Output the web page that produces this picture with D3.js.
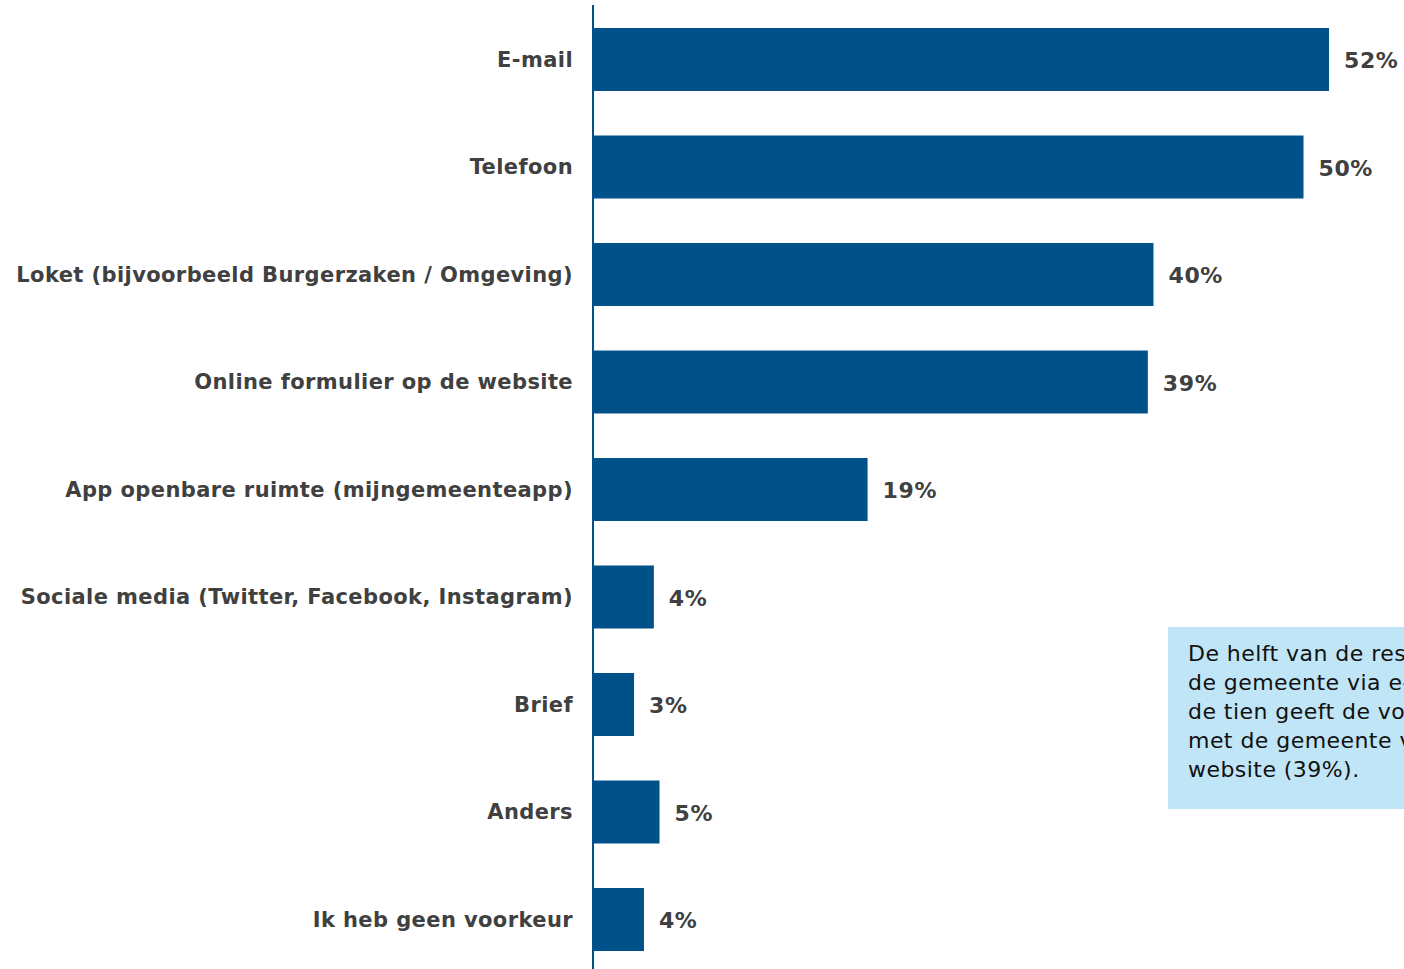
<!DOCTYPE html>
<html>
<head>
<meta charset="utf-8">
<script src="https://cdn.jsdelivr.net/npm/d3@7"></script>
<style>
  html, body { margin: 0; padding: 0; background: #fff; overflow: hidden; }
  svg { display: block; }
</style>
</head>
<body>
<div id="chart"></div>
<script>
var categories = [
  "E-mail",
  "Telefoon",
  "Loket (bijvoorbeeld Burgerzaken / Omgeving)",
  "Online formulier op de website",
  "App openbare ruimte (mijngemeenteapp)",
  "Sociale media (Twitter, Facebook, Instagram)",
  "Brief",
  "Anders",
  "Ik heb geen voorkeur"
];
var values = [52.0, 50.2, 39.6, 39.2, 19.4, 4.3, 2.9, 4.7, 3.6];
var calloutLines = [
  "De helft van de respondenten neemt contact op met",
  "de gemeente via e-mail (52%). Vier op",
  "de tien geeft de voorkeur aan contact",
  "met de gemeente via een formulier op de",
  "website (39%)."
];

var width = 1404;
var height = 969;
var axisX = 593;
var barColor = "#00508A";
var textColor = "#404040";
var fontStack = "Verdana, 'DejaVu Sans', sans-serif";

var svg = d3.select("#chart")
  .append("svg")
  .attr("width", width)
  .attr("height", height);

var x = d3.scaleLinear()
  .domain([0, 57.3])
  .range([axisX, width]);

var y = d3.scaleBand()
  .domain(categories)
  .range([5.75, 973.25])
  .paddingInner(0.414)
  .paddingOuter(0.207);

var rows = categories.map(function(c, i) { return { label: c, value: values[i] }; });

// bars
svg.selectAll("rect.bar")
  .data(rows)
  .enter()
  .append("rect")
  .attr("class", "bar")
  .attr("x", x(0))
  .attr("y", function(d) { return y(d.label); })
  .attr("width", function(d) { return x(d.value) - x(0); })
  .attr("height", y.bandwidth())
  .attr("fill", barColor);

// value labels
svg.selectAll("text.value")
  .data(rows)
  .enter()
  .append("text")
  .attr("class", "value")
  .attr("x", function(d) { return x(d.value) + 15; })
  .attr("y", function(d) { return y(d.label) + y.bandwidth() / 2 + 1; })
  .attr("dy", "0.35em")
  .attr("font-family", fontStack)
  .attr("font-weight", "bold")
  .attr("font-size", "22px")
  .attr("letter-spacing", "0.6px")
  .attr("fill", textColor)
  .text(function(d) { return Math.round(d.value) + "%"; });

// category axis
var yAxis = d3.axisLeft(y).tickSize(0).tickPadding(20);
var gAxis = svg.append("g")
  .attr("transform", "translate(" + axisX + ",0)")
  .call(yAxis);
gAxis.select(".domain").remove();
gAxis.selectAll("text")
  .attr("font-family", fontStack)
  .attr("font-weight", "bold")
  .attr("font-size", "21px")
  .attr("letter-spacing", "0.4px")
  .attr("dy", "0.35em")
  .attr("fill", textColor);

svg.append("line")
  .attr("x1", axisX).attr("x2", axisX)
  .attr("y1", 5).attr("y2", height)
  .attr("stroke", barColor)
  .attr("stroke-width", 2);

// callout box
var box = svg.append("g").attr("transform", "translate(1168,627)");
box.append("rect")
  .attr("width", 300)
  .attr("height", 182)
  .attr("fill", "#C0E5F6");
box.selectAll("text")
  .data(calloutLines)
  .enter()
  .append("text")
  .attr("x", 20)
  .attr("y", function(d, i) { return 34 + i * 29; })
  .attr("font-family", fontStack)
  .attr("font-size", "22px")
  .attr("letter-spacing", "0.45px")
  .attr("fill", "#111")
  .text(function(d) { return d; });
</script>
</body>
</html>
